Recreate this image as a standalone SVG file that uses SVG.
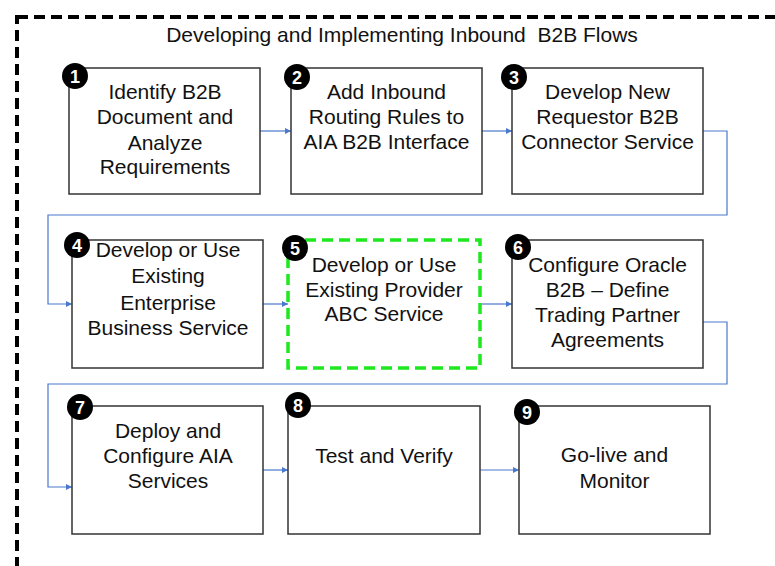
<svg xmlns="http://www.w3.org/2000/svg" width="775" height="566" viewBox="0 0 775 566">
<style>
.box{fill:#fff;stroke:#333;stroke-width:1.5}
.sel{fill:#fff;stroke:#1ee81e;stroke-width:3.5;stroke-dasharray:11 6}
.t{font-family:"Liberation Sans",Arial,sans-serif;font-size:21px;fill:#111;text-anchor:middle}
.b{fill:#000}
.n{font-family:"Liberation Sans",Arial,sans-serif;font-size:18px;font-weight:bold;fill:#fff;text-anchor:middle}
.c{fill:none;stroke:#4a78cc;stroke-width:1.2}
</style>
<defs>
<marker id="ah" viewBox="0 0 10 10" refX="10" refY="5" markerWidth="8" markerHeight="6" orient="auto" markerUnits="userSpaceOnUse">
<path d="M0,0 L10,5 L0,10 z" fill="#4a78cc"/>
</marker>
</defs>
<rect x="17" y="17" width="820" height="620" fill="none" stroke="#000" stroke-width="4" stroke-dasharray="11 6"/>
<text class="t" x="402" y="42" xml:space="preserve">Developing and Implementing Inbound  B2B Flows</text>
<g id="connectors">
<path class="c" d="M260,131 H291" marker-end="url(#ah)"/>
<path class="c" d="M482,131 H512" marker-end="url(#ah)"/>
<path class="c" d="M703,131 H727 V215 H48 V304 H72" marker-end="url(#ah)"/>
<path class="c" d="M263,304 H288" marker-end="url(#ah)"/>
<path class="c" d="M480,304 H512" marker-end="url(#ah)"/>
<path class="c" d="M703,322 H727 V384 H48 V487 H72" marker-end="url(#ah)"/>
<path class="c" d="M263,470 H288" marker-end="url(#ah)"/>
<path class="c" d="M480,470 H519" marker-end="url(#ah)"/>
</g>
<g id="node1">
<rect class="box" x="69" y="68" width="191" height="126"/>
<text class="t" x="165" y="99">Identify B2B</text>
<text class="t" x="165" y="124">Document and</text>
<text class="t" x="165" y="150">Analyze</text>
<text class="t" x="165" y="174">Requirements</text>
<circle class="b" cx="75" cy="76" r="13"/><text class="n" x="75" y="82.5">1</text>
</g>
<g id="node2">
<rect class="box" x="291" y="68" width="191" height="126"/>
<text class="t" x="386.5" y="99">Add Inbound</text>
<text class="t" x="386.5" y="124">Routing Rules to</text>
<text class="t" x="386.5" y="149">AIA B2B Interface</text>
<circle class="b" cx="297" cy="77" r="13"/><text class="n" x="297" y="83.5">2</text>
</g>
<g id="node3">
<rect class="box" x="512" y="68" width="191" height="126"/>
<text class="t" x="607.5" y="99">Develop New</text>
<text class="t" x="607.5" y="124">Requestor B2B</text>
<text class="t" x="607.5" y="149">Connector Service</text>
<circle class="b" cx="514" cy="77" r="13"/><text class="n" x="514" y="83.5">3</text>
</g>
<g id="node4">
<rect class="box" x="72" y="240" width="191" height="128"/>
<text class="t" x="168" y="257">Develop or Use</text>
<text class="t" x="168" y="283">Existing</text>
<text class="t" x="168" y="310">Enterprise</text>
<text class="t" x="168" y="335">Business Service</text>
<circle class="b" cx="77" cy="245" r="13"/><text class="n" x="77" y="251.5">4</text>
</g>
<g id="node5">
<rect class="sel" x="288" y="240" width="192" height="128"/>
<text class="t" x="384" y="272">Develop or Use</text>
<text class="t" x="384" y="297">Existing Provider</text>
<text class="t" x="384" y="321">ABC Service</text>
<circle class="b" cx="295" cy="248" r="13"/><text class="n" x="295" y="254.5">5</text>
</g>
<g id="node6">
<rect class="box" x="512" y="240" width="191" height="128"/>
<text class="t" x="607.5" y="272">Configure Oracle</text>
<text class="t" x="607.5" y="297">B2B – Define</text>
<text class="t" x="607.5" y="322">Trading Partner</text>
<text class="t" x="607.5" y="347">Agreements</text>
<circle class="b" cx="518" cy="247" r="13"/><text class="n" x="518" y="253.5">6</text>
</g>
<g id="node7">
<rect class="box" x="72" y="406" width="191" height="128"/>
<text class="t" x="168" y="438">Deploy and</text>
<text class="t" x="168" y="463">Configure AIA</text>
<text class="t" x="168" y="488">Services</text>
<circle class="b" cx="80" cy="407" r="13"/><text class="n" x="80" y="413.5">7</text>
</g>
<g id="node8">
<rect class="box" x="288" y="406" width="192" height="128"/>
<text class="t" x="384" y="463">Test and Verify</text>
<circle class="b" cx="298" cy="405" r="13"/><text class="n" x="298" y="411.5">8</text>
</g>
<g id="node9">
<rect class="box" x="519" y="406" width="191" height="128"/>
<text class="t" x="614.5" y="462">Go-live and</text>
<text class="t" x="614.5" y="488">Monitor</text>
<circle class="b" cx="527" cy="412" r="13"/><text class="n" x="527" y="418.5">9</text>
</g>
</svg>
